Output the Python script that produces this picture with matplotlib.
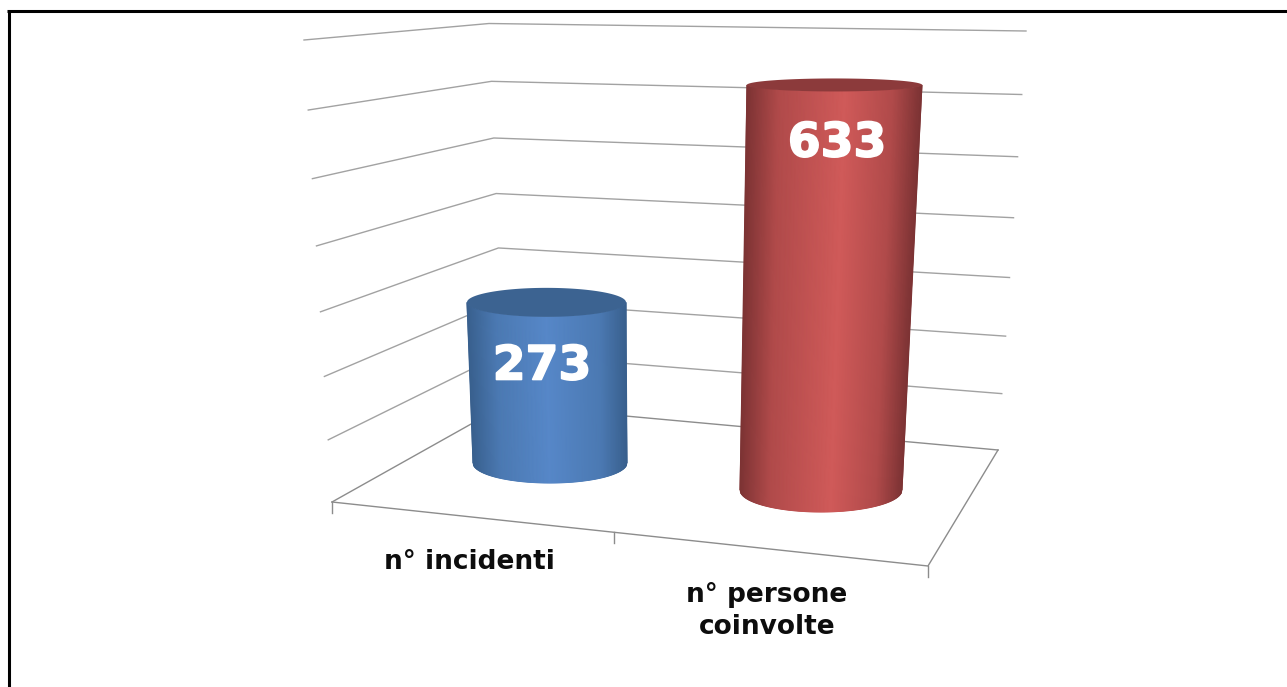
import numpy as np
import matplotlib
matplotlib.use("Agg")
import matplotlib.pyplot as plt
import matplotlib.patheffects as pe
from matplotlib.colors import LinearSegmentedColormap

categories = ["n° incidenti", "n° persone\ncoinvolte"]
values = [273, 633]
axis_ticks = [0, 100, 200, 300, 400, 500, 600, 700]

W, H = 1287, 687
fig = plt.figure(figsize=(W / 100, H / 100), dpi=100, facecolor="white")
ax = fig.add_axes([0, 0, 1, 1])
ax.set_xlim(0, W)
ax.set_ylim(H, 0)
ax.axis("off")

# Box corners of the 3D chart, in figure pixels
LEFT_B, LEFT_T = (332, 502), (304, 40)
BACK_B, BACK_T = (505, 405), (489, 23.5)
RIGHT_B, RIGHT_T = (998, 450), (1026, 31)
FRONT_L, FRONT_R = (332, 502), (928, 566)
K_VAL, K_CAT = 0.072, 0.114
VMAX = axis_ticks[-1]


def persp(t, k):
    return t / (1 + k * (1 - t))


def lerp(a, b, s):
    return (a[0] + (b[0] - a[0]) * s, a[1] + (b[1] - a[1]) * s)


# Walls
for v in axis_ticks:
    s = persp(v / VMAX, K_VAL)
    l, b, r = lerp(LEFT_B, LEFT_T, s), lerp(BACK_B, BACK_T, s), lerp(RIGHT_B, RIGHT_T, s)
    ax.plot([l[0], b[0], r[0]], [l[1], b[1], r[1]],
            color="#a2a2a2" if v else "#8c8c8c", lw=1.0, zorder=1,
            solid_joinstyle="miter")

# Floor front and right edges, category ticks
ax.plot([FRONT_L[0], FRONT_R[0], RIGHT_B[0]], [FRONT_L[1], FRONT_R[1], RIGHT_B[1]],
        color="#8c8c8c", lw=1.0, zorder=1)
for i in range(len(categories) + 1):
    p = lerp(FRONT_L, FRONT_R, persp(i / len(categories), K_CAT))
    ax.plot([p[0], p[0]], [p[1], p[1] + 11], color="#8c8c8c", lw=1.0, zorder=1)

# Cylinders
def cmap_for(dark, mid, light, peak):
    return LinearSegmentedColormap.from_list(
        "c", [(0, dark), (0.18, mid), (peak, light), (0.84, mid), (1, dark)])


bars = [
    dict(base=(550, 463), rx_b=77, ry_b=20, depth_h=430, lean=-9.4, rx_t=79.5, ry_t=14.5,
         cmap=cmap_for("#39608e", "#4b79b2", "#5687c8", 0.5), top="#3c6391",
         label=(542, 367)),
    dict(base=(821, 490), rx_b=81, ry_b=22, depth_h=451, lean=15, rx_t=87.5, ry_t=6.5,
         cmap=cmap_for("#7d3334", "#b04a4a", "#d05a59", 0.56), top="#8c3a3b",
         label=(837, 144)),
]

for val, b in zip(values, bars):
    s = persp(val / VMAX, K_VAL)
    cx_t = b["base"][0] + b["lean"] * s
    cy_t = b["base"][1] - b["depth_h"] * s
    u = np.linspace(-1, 1, 161)
    arc = np.sqrt(np.clip(1 - u ** 2, 0, 1))
    xt, yt = cx_t + b["rx_t"] * u, cy_t + b["ry_t"] * arc
    xb, yb = b["base"][0] + b["rx_b"] * u, b["base"][1] + b["ry_b"] * arc
    X = np.vstack([xt, xb])
    Y = np.vstack([yt, yb])
    C = np.vstack([u, u])
    ax.pcolormesh(X, Y, C, cmap=b["cmap"], vmin=-1, vmax=1, shading="gouraud", zorder=3)
    th = np.linspace(0, 2 * np.pi, 200)
    ax.fill(cx_t + b["rx_t"] * np.cos(th), cy_t + b["ry_t"] * np.sin(th),
            color=b["top"], lw=0, zorder=4)
    ax.text(b["label"][0], b["label"][1], str(val), color="white", fontsize=34,
            fontweight="bold", family="DejaVu Sans", ha="center", va="center", zorder=5,
            path_effects=[pe.withStroke(linewidth=1.2, foreground="white")])

# Category labels
label_pos = [(469, 562), (767, 611)]
for txt, (x, y) in zip(categories, label_pos):
    ax.text(x, y, txt, color="#0d0d0d", fontsize=19, fontweight="bold",
            family="DejaVu Sans", ha="center", va="center", linespacing=1.25, zorder=5)

# Outer frame
ax.plot([8.5, 8.5], [H, 10.5], color="black", lw=2.2, solid_capstyle="butt", zorder=6)
ax.plot([7, W], [10.5, 10.5], color="black", lw=2.2, solid_capstyle="butt", zorder=6)

fig.savefig("out.png", dpi=100, facecolor="white")
